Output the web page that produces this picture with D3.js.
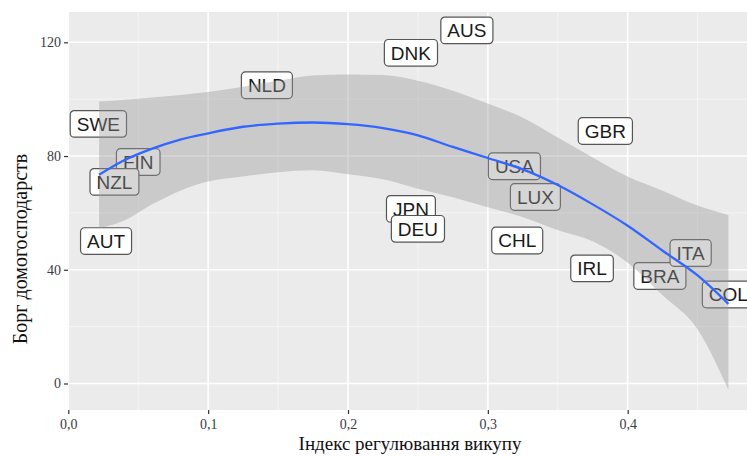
<!DOCTYPE html>
<html>
<head>
<meta charset="utf-8">
<script src="https://cdnjs.cloudflare.com/ajax/libs/d3/7.8.5/d3.min.js"></script>
<style>
  body { margin: 0; background: #fff; }
  svg { display: block; }
</style>
</head>
<body>
<svg id="chart"></svg>
<script>
var width = 747,
    height = 456;

// countries: regulation index (x) and household debt (y)
var countries = ["AUS", "DNK", "NLD", "SWE", "FIN", "NZL", "AUT", "GBR", "USA",
                 "LUX", "JPN", "DEU", "CHL", "IRL", "BRA", "ITA", "COL"];
var regIndex  = [0.285, 0.245, 0.142, 0.0215, 0.050, 0.033, 0.027, 0.384, 0.319,
                 0.334, 0.245, 0.250, 0.321, 0.3745, 0.423, 0.445, 0.472];
var debt      = [124.2, 116.3, 104.9, 91.3, 77.9, 70.9, 50.1, 88.8, 76.4,
                 65.6, 61.4, 54.4, 50.3, 40.5, 37.8, 45.9, 31.3];

// loess curve and its confidence band
var smoothX  = [0.022, 0.04, 0.06, 0.08, 0.10, 0.125, 0.15, 0.175, 0.20, 0.225,
                0.25, 0.275, 0.30, 0.325, 0.35, 0.375, 0.40, 0.425, 0.45, 0.472];
var smoothY  = [73.4, 78.5, 82.6, 85.8, 88.0, 90.3, 91.4, 91.8, 91.2, 89.8,
                87.3, 83.2, 79.3, 75.3, 69.8, 63.0, 55.5, 46.7, 38.0, 28.0];
var smoothLo = [54.6, 57.3, 63.0, 67.8, 71.0, 72.8, 74.3, 75.0, 73.6, 71.8,
                68.5, 65.5, 62.0, 58.5, 54.0, 50.0, 42.5, 31.0, 19.0, -2.3];
var smoothHi = [99.2, 99.8, 100.6, 101.5, 102.5, 104.4, 106.5, 108.3, 108.7, 108.5,
                106.5, 103.0, 98.5, 93.5, 86.5, 79.5, 72.8, 67.8, 62.6, 59.3];

var xTicks = [0, 0.1, 0.2, 0.3, 0.4];
var xMinor = [0.05, 0.15, 0.25, 0.35, 0.45];
var yTicks = [0, 40, 80, 120];
var yMinor = [20, 60, 100];

var panel = { left: 68, top: 12, right: 747, bottom: 410 };

var x = d3.scaleLinear().domain([0, 0.4]).range([68.3, 627.7]);
var y = d3.scaleLinear().domain([0, 120]).range([383.5, 42.3]);

var fmt = function(d) { return d3.format(".1f")(d).replace(".", ","); };

var svg = d3.select("#chart")
    .attr("width", width)
    .attr("height", height);

// panel background
svg.append("rect")
    .attr("x", panel.left)
    .attr("y", panel.top)
    .attr("width", panel.right - panel.left)
    .attr("height", panel.bottom - panel.top)
    .attr("fill", "#ebebeb");

var grid = svg.append("g");

grid.selectAll(".xminor")
    .data(xMinor).enter()
    .append("line")
    .attr("x1", function(d) { return x(d); })
    .attr("x2", function(d) { return x(d); })
    .attr("y1", panel.top)
    .attr("y2", panel.bottom)
    .attr("stroke", "#f7f7f7")
    .attr("stroke-width", 0.8);

grid.selectAll(".yminor")
    .data(yMinor).enter()
    .append("line")
    .attr("x1", panel.left)
    .attr("x2", panel.right)
    .attr("y1", function(d) { return y(d); })
    .attr("y2", function(d) { return y(d); })
    .attr("stroke", "#f7f7f7")
    .attr("stroke-width", 0.8);

grid.selectAll(".xmajor")
    .data(xTicks).enter()
    .append("line")
    .attr("x1", function(d) { return x(d); })
    .attr("x2", function(d) { return x(d); })
    .attr("y1", panel.top)
    .attr("y2", panel.bottom)
    .attr("stroke", "#fff")
    .attr("stroke-width", 1.6);

grid.selectAll(".ymajor")
    .data(yTicks).enter()
    .append("line")
    .attr("x1", panel.left)
    .attr("x2", panel.right)
    .attr("y1", function(d) { return y(d); })
    .attr("y2", function(d) { return y(d); })
    .attr("stroke", "#fff")
    .attr("stroke-width", 1.6);

// labels (drawn under the smooth, as in the original)
var data = countries.map(function(c, i) {
  return { name: c, x: regIndex[i], y: debt[i] };
});

var labels = svg.append("g");
var lab = labels.selectAll("g")
    .data(data).enter()
    .append("g")
    .attr("transform", function(d) { return "translate(" + x(d.x) + "," + y(d.y) + ")"; });

lab.append("rect")
    .attr("fill", "#fff")
    .attr("stroke", "#555")
    .attr("stroke-width", 1.2)
    .attr("rx", 4);

lab.append("text")
    .attr("text-anchor", "middle")
    .attr("dy", "0.36em")
    .style("font-family", "Liberation Sans, Arial, sans-serif")
    .style("font-size", "19px")
    .attr("fill", "#1a1a1a")
    .text(function(d) { return d.name; });

lab.each(function(d) {
  var w = d3.select(this).select("text").node().getComputedTextLength() + 13;
  d3.select(this).select("rect")
    .attr("x", -w / 2)
    .attr("y", -13.3)
    .attr("width", w)
    .attr("height", 26.6);
});

// confidence band and loess line
var smooth = smoothX.map(function(v, i) {
  return { x: v, y: smoothY[i], lo: smoothLo[i], hi: smoothHi[i] };
});

var area = d3.area()
    .x(function(d) { return x(d.x); })
    .y0(function(d) { return y(d.lo); })
    .y1(function(d) { return y(d.hi); })
    .curve(d3.curveMonotoneX);

var line = d3.line()
    .x(function(d) { return x(d.x); })
    .y(function(d) { return y(d.y); })
    .curve(d3.curveMonotoneX);

svg.append("path")
    .datum(smooth)
    .attr("d", area)
    .attr("fill", "#999")
    .attr("fill-opacity", 0.4);

svg.append("path")
    .datum(smooth)
    .attr("d", line)
    .attr("fill", "none")
    .attr("stroke", "#3366ff")
    .attr("stroke-width", 2.3);

// axes
var xAxis = svg.append("g")
    .attr("transform", "translate(0," + panel.bottom + ")")
    .call(d3.axisBottom(x).tickValues(xTicks).tickFormat(fmt).tickSize(4).tickPadding(5));

var yAxis = svg.append("g")
    .attr("transform", "translate(" + panel.left + ",0)")
    .call(d3.axisLeft(y).tickValues(yTicks).tickFormat(d3.format("d")).tickSize(4).tickPadding(3));

[xAxis, yAxis].forEach(function(a) {
  a.select(".domain").remove();
  a.selectAll(".tick line").attr("stroke", "#333").attr("stroke-width", 1.2);
  a.selectAll(".tick text")
    .attr("fill", "#3b3b44")
    .style("font-family", "Liberation Serif, Times New Roman, serif")
    .style("font-size", "14px");
});

// axis titles
svg.append("text")
    .attr("x", 410)
    .attr("y", 450)
    .attr("text-anchor", "middle")
    .style("font-family", "Liberation Serif, Times New Roman, serif")
    .style("font-size", "19px")
    .attr("fill", "#111")
    .text("Індекс регулювання викупу");

svg.append("text")
    .attr("transform", "translate(27,249) rotate(-90)")
    .attr("text-anchor", "middle")
    .style("font-family", "Liberation Serif, Times New Roman, serif")
    .style("font-size", "20px")
    .attr("fill", "#111")
    .text("Борг домогосподарств");
</script>
</body>
</html>
